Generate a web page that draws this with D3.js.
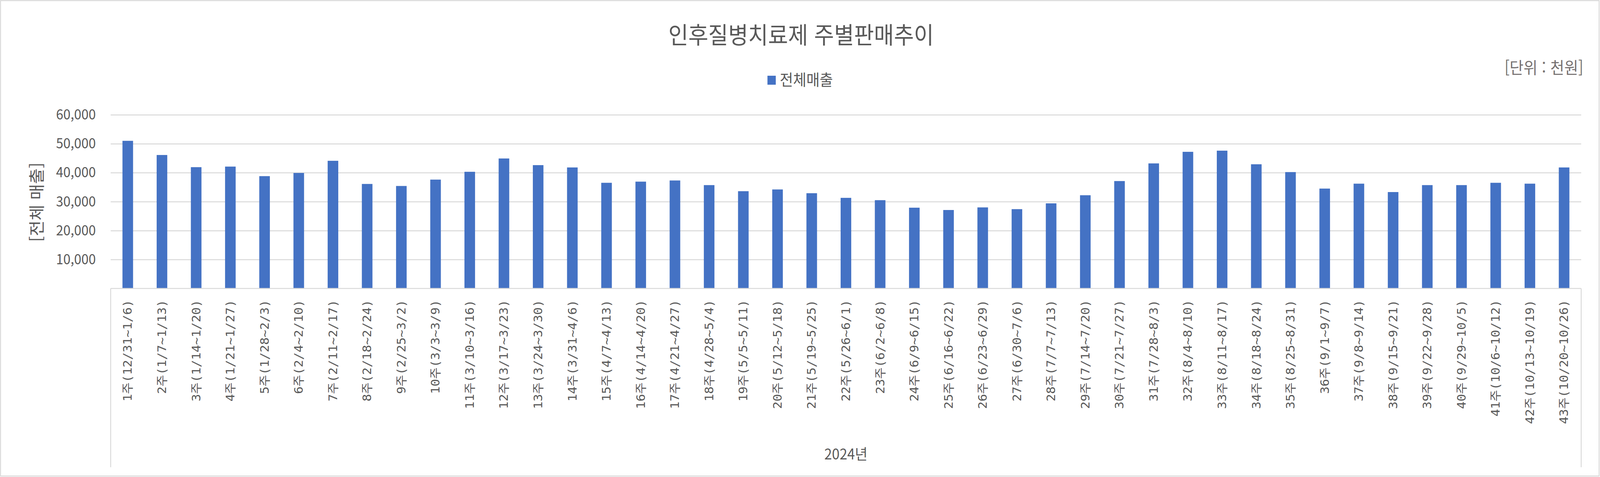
<!DOCTYPE html>
<html lang="ko">
<head>
<meta charset="utf-8">
<title>인후질병치료제 주별판매추이</title>
<script src="https://d3js.org/d3.v7.min.js"></script>
<style>
  html, body { margin: 0; padding: 0; background: #fff; overflow: hidden; }
  svg { display: block; width: 100vw; height: 100vh; }
  text { font-family: "Noto Sans CJK KR", "Noto Sans", sans-serif; fill: #595959; }
  .week { font-family: "DejaVu Sans Mono", "Noto Sans CJK KR", monospace; }
</style>
</head>
<body>
<script>
// data (unit: thousand won)
var weeks = [
  "1주(12/31~1/6)", "2주(1/7~1/13)", "3주(1/14~1/20)", "4주(1/21~1/27)", "5주(1/28~2/3)",
  "6주(2/4~2/10)", "7주(2/11~2/17)", "8주(2/18~2/24)", "9주(2/25~3/2)", "10주(3/3~3/9)",
  "11주(3/10~3/16)", "12주(3/17~3/23)", "13주(3/24~3/30)", "14주(3/31~4/6)", "15주(4/7~4/13)",
  "16주(4/14~4/20)", "17주(4/21~4/27)", "18주(4/28~5/4)", "19주(5/5~5/11)", "20주(5/12~5/18)",
  "21주(5/19~5/25)", "22주(5/26~6/1)", "23주(6/2~6/8)", "24주(6/9~6/15)", "25주(6/16~6/22)",
  "26주(6/23~6/29)", "27주(6/30~7/6)", "28주(7/7~7/13)", "29주(7/14~7/20)", "30주(7/21~7/27)",
  "31주(7/28~8/3)", "32주(8/4~8/10)", "33주(8/11~8/17)", "34주(8/18~8/24)", "35주(8/25~8/31)",
  "36주(9/1~9/7)", "37주(9/8~9/14)", "38주(9/15~9/21)", "39주(9/22~9/28)", "40주(9/29~10/5)",
  "41주(10/6~10/12)", "42주(10/13~10/19)", "43주(10/20~10/26)"
];
var sales = [
  51000, 46100, 41900, 42100, 38800, 39900, 44100, 36100, 35400, 37600,
  40300, 44900, 42600, 41800, 36500, 36900, 37300, 35700, 33600, 34200,
  32900, 31300, 30500, 27900, 27100, 28000, 27400, 29400, 32200, 37100,
  43200, 47200, 47600, 42900, 40200, 34500, 36200, 33300, 35700, 35700,
  36500, 36200, 41800
];
var yTicks = [10000, 20000, 30000, 40000, 50000, 60000];
var seriesName = "전체매출";
var yearLabel = "2024년";

var w = 4424, h = 1222;
// plot area edges (note: "top" is reserved on window, so use other names)
var plotL = 306, plotR = 4372, plotT = 294, plotB = 739;
var barColor = "#4472C4", gridColor = "#d9d9d9";

// viewBox stretched over the whole window so the chart fills the shot
var svg = d3.select("body").append("svg")
  .attr("viewBox", "0 0 " + w + " " + h)
  .attr("preserveAspectRatio", "none");

// chart border
svg.append("rect")
  .attr("x", 1.5).attr("y", 1.5)
  .attr("width", w - 4).attr("height", h - 4)
  .attr("fill", "#fff")
  .attr("stroke", gridColor)
  .attr("stroke-width", 2.5);

var x = d3.scaleBand()
  .domain(weeks)
  .range([plotL, plotR])
  .paddingInner(0.69)
  .paddingOuter(0.345);

var y = d3.scaleLinear()
  .domain([0, 60000])
  .range([plotB, plotT]);

// gridlines + y labels
var yAxis = svg.append("g")
  .attr("transform", "translate(" + plotL + ",0)")
  .call(d3.axisLeft(y).tickValues(yTicks).tickSize(-(plotR - plotL)).tickPadding(41).tickFormat(d3.format(",")));
yAxis.select(".domain").remove();
yAxis.selectAll(".tick line").attr("stroke", gridColor).attr("stroke-width", 2.5);
yAxis.selectAll(".tick text").attr("font-size", 36).attr("fill", "#595959")
  .style("font-family", "'Noto Sans CJK KR', sans-serif");

// bars
svg.selectAll("rect.bar")
  .data(sales)
  .enter()
  .append("rect")
  .attr("class", "bar")
  .attr("x", function(d, i) { return x(weeks[i]); })
  .attr("y", function(d) { return y(d); })
  .attr("width", x.bandwidth())
  .attr("height", function(d) { return plotB - y(d); })
  .attr("fill", barColor);

// category axis baseline and group separators
svg.append("line")
  .attr("x1", plotL).attr("x2", plotR)
  .attr("y1", plotB).attr("y2", plotB)
  .attr("stroke", gridColor).attr("stroke-width", 2.5);
[plotL, plotR].forEach(function(px) {
  svg.append("line")
    .attr("x1", px).attr("x2", px)
    .attr("y1", plotB).attr("y2", 1197)
    .attr("stroke", gridColor).attr("stroke-width", 2.5);
});

// week labels, rotated
svg.selectAll("text.week")
  .data(weeks)
  .enter()
  .append("text")
  .attr("class", "week")
  .attr("font-size", 32)
  .attr("text-anchor", "end")
  .attr("dy", "0.35em")
  .attr("transform", function(d) {
    return "translate(" + (x(d) + x.bandwidth() / 2) + ",768) rotate(-90)";
  })
  .text(function(d) { return d; });

// year label
svg.append("text")
  .attr("x", (plotL + plotR) / 2)
  .attr("y", 1177)
  .attr("text-anchor", "middle")
  .attr("font-size", 38)
  .text(yearLabel);

// title
svg.append("text")
  .attr("x", 2215)
  .attr("y", 112)
  .attr("text-anchor", "middle")
  .attr("font-size", 60)
  .text("인후질병치료제 주별판매추이");

// legend
svg.append("rect")
  .attr("x", 2122).attr("y", 194)
  .attr("width", 23).attr("height", 23)
  .attr("fill", barColor);
svg.append("text")
  .attr("x", 2156)
  .attr("y", 219)
  .attr("font-size", 40)
  .text(seriesName);

// unit note
svg.append("text")
  .attr("x", 4378)
  .attr("y", 189)
  .attr("text-anchor", "end")
  .attr("font-size", 42)
  .style("fill", "#767171")
  .text("[단위 : 천원]");

// y axis title
svg.append("text")
  .attr("text-anchor", "middle")
  .attr("font-size", 44)
  .attr("transform", "translate(118,518) rotate(-90)")
  .text("[전체 매출]");
</script>
</body>
</html>
